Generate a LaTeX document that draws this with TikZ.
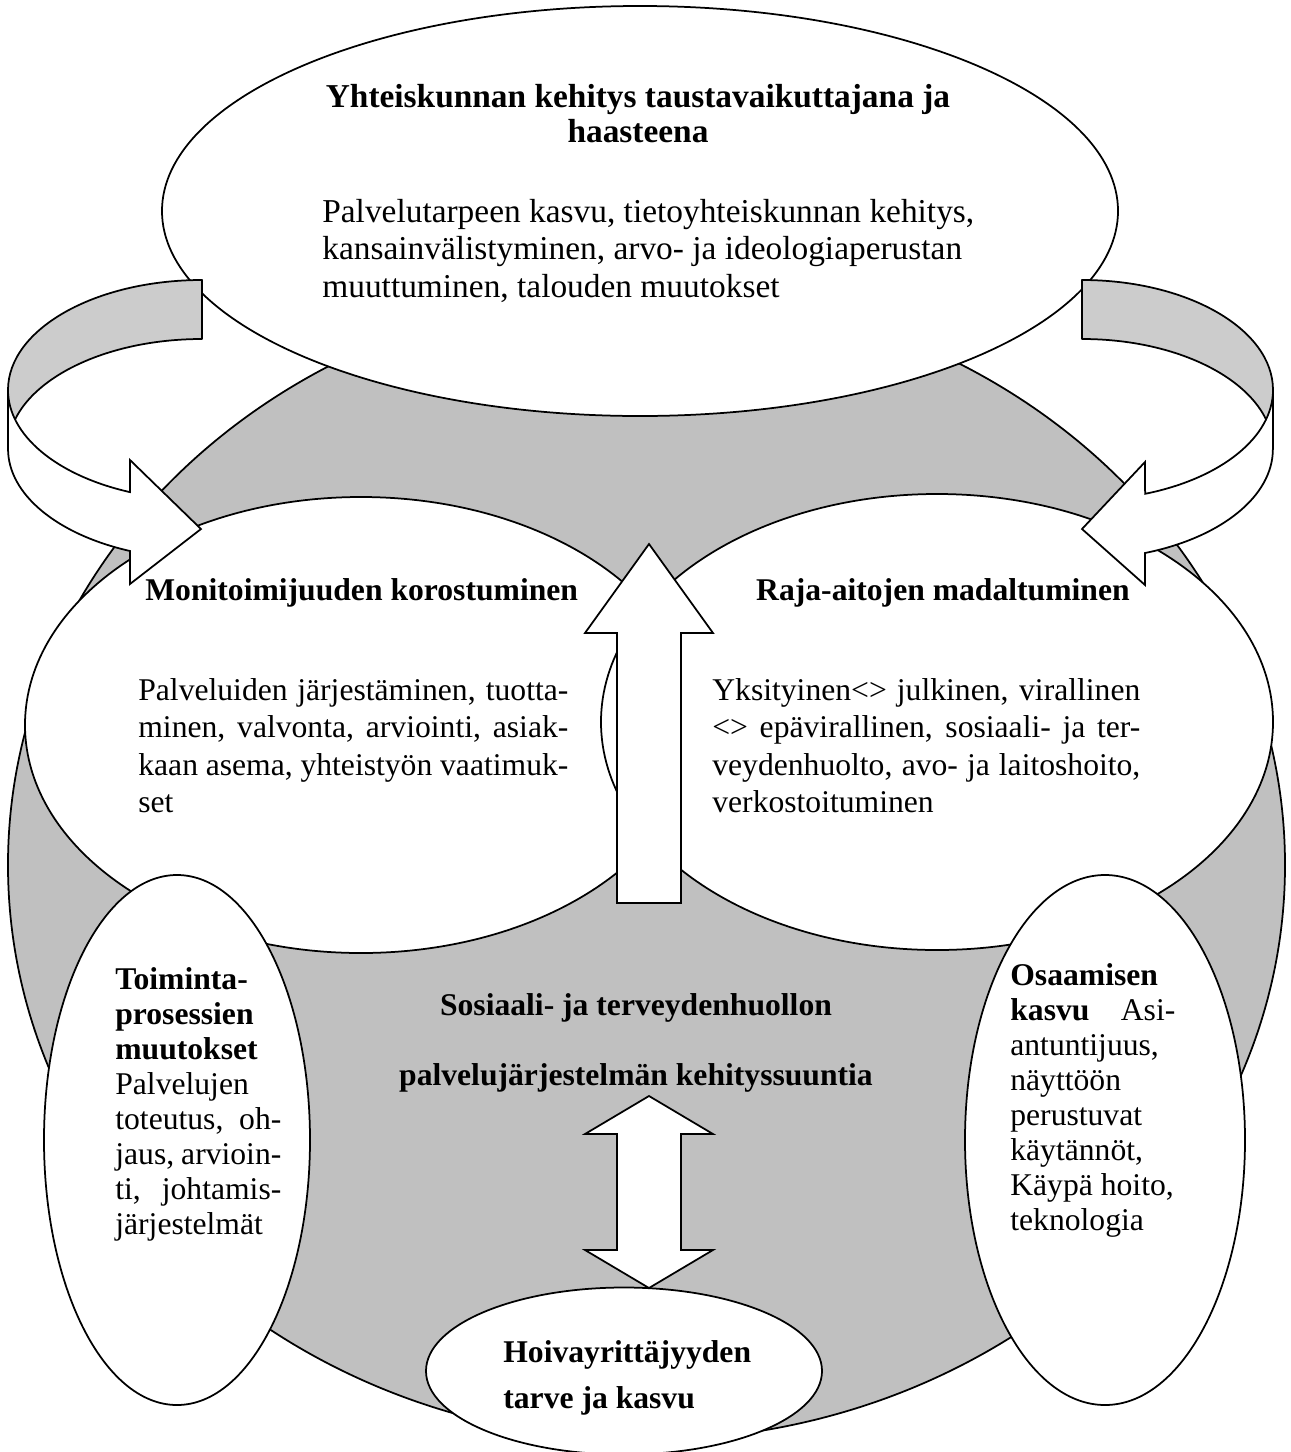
\documentclass[tikz,border=0pt]{standalone}
\usepackage{fontspec}
\setmainfont{Liberation Serif}
\usepackage{tikz}
\usetikzlibrary{shapes.geometric}
\definecolor{ringgray}{HTML}{C0C0C0}
\definecolor{bandgray}{HTML}{CCCCCC}
\tikzset{
    bubble/.style={
        ellipse,
        draw=black,
        fill=white,
        line width=0.35mm,
        inner sep=0pt
    },
    band back/.style={
        draw=black,
        fill=bandgray,
        line width=0.35mm,
        line join=round
    },
    band front/.style={
        draw=black,
        fill=white,
        line width=0.35mm,
        line join=miter
    },
    block arrow/.style={
        draw=black,
        fill=white,
        line width=0.35mm,
        line join=miter
    },
    heading/.style={
        font=\fontsize{18}{21.3}\selectfont\bfseries,
        inner sep=0pt
    },
    top heading/.style={
        font=\fontsize{19}{19.9}\selectfont\bfseries,
        inner sep=0pt
    },
    body/.style={
        font=\fontsize{18}{21.3}\selectfont,
        inner sep=0pt,
        align=justify
    },
    top body/.style={
        font=\fontsize{19}{21.3}\selectfont,
        inner sep=0pt,
        align=left
    },
    side body/.style={
        font=\fontsize{18}{19.9}\selectfont,
        inner sep=0pt,
        align=justify
    }
}
\begin{document}
\begin{tikzpicture}[x=0.2mm, y=-0.2mm]
    \useasboundingbox (0,0) rectangle (1291,1452);

    % Background ring
    \node[bubble, fill=ringgray, minimum width=255.4mm, minimum height=230mm] (ring) at (646.5,865) {};

    % Society ellipse on top
    \node[bubble, minimum width=191.2mm, minimum height=82mm] (society) at (640,211) {};

    % Middle ellipses
    \node[bubble, minimum width=134.4mm, minimum height=91.2mm] (multi) at (361,725) {};
    \node[bubble, minimum width=134.4mm, minimum height=91.2mm] (borders) at (937,722) {};

    % Curved ribbon arrows (back side grey, front side white)
    \draw[band back] (202,280) arc[start angle=270, end angle=180, x radius=194, y radius=110]
        -- (8,449) arc[start angle=180, end angle=270, x radius=194, y radius=110] -- cycle;
    \draw[band front] (8,390) arc[start angle=180, end angle=111.8, x radius=194, y radius=110]
        -- (130,460) -- (201,529) -- (130,584) -- (130,551)
        arc[start angle=111.8, end angle=180, x radius=194, y radius=110] -- cycle;
    \draw[band back] (1082,280) arc[start angle=270, end angle=360, x radius=191, y radius=110]
        -- (1273,449) arc[start angle=0, end angle=-90, x radius=191, y radius=110] -- cycle;
    \draw[band front] (1273,390) arc[start angle=0, end angle=70.7, x radius=191, y radius=110]
        -- (1145,462) -- (1082,529) -- (1145,585) -- (1145,553)
        arc[start angle=70.7, end angle=0, x radius=191, y radius=110] -- cycle;

    % Side and bottom ellipses
    \node[bubble, minimum width=53.2mm, minimum height=106mm] (process) at (177,1140) {};
    \node[bubble, minimum width=56mm, minimum height=106mm] (expertise) at (1105,1140) {};
    \node[bubble, minimum width=79.2mm, minimum height=33.4mm] (enterprise) at (624,1371) {};

    % Block arrows
    \draw[block arrow] (649,544) -- (713,633) -- (681,633) -- (681,903)
        -- (617,903) -- (617,633) -- (585,633) -- cycle;
    \draw[block arrow] (649,1096) -- (713,1134) -- (681,1134) -- (681,1250) -- (713,1250)
        -- (649,1288) -- (585,1250) -- (617,1250) -- (617,1134) -- (585,1134) -- cycle;

    % Texts
    \node[top heading, align=center, anchor=north] (society title) at (638,84)
        {Yhteiskunnan kehitys taustavaikuttajana ja\\haasteena};
    \node[top body, anchor=north west] (society text) at (322,199)
        {Palvelutarpeen kasvu, tietoyhteiskunnan kehitys,\\kansainvälistyminen, arvo- ja ideologiaperustan\\muuttuminen, talouden muutokset};

    \node[heading, anchor=base west] (multi title) at (145,600) {Monitoimijuuden korostuminen};
    \node[body, text width=86mm, anchor=north west] (multi text) at (138,678)
        {Palveluiden järjestäminen, tuotta-\linebreak minen, valvonta, arviointi, asiak-\linebreak kaan asema, yhteistyön vaatimuk-\linebreak set};

    \node[heading, anchor=base east] (borders title) at (1130,600) {Raja-aitojen madaltuminen};
    \node[body, text width=85.6mm, anchor=north west] (borders text) at (712,678)
        {Yksityinen<> julkinen, virallinen\linebreak <> epävirallinen, sosiaali- ja ter-\linebreak veydenhuolto, avo- ja laitoshoito,\linebreak verkostoituminen};

    \node[side body, text width=33.2mm, anchor=north west] (process text) at (115,967)
        {\textbf{Toiminta-}\newline\textbf{prosessien}\newline\textbf{muutokset}\newline Palvelujen\newline toteutus, oh-\linebreak jaus, arvioin-\linebreak ti, johtamis-\linebreak järjestelmät};

    \node[side body, text width=33mm, anchor=north west] (expertise text) at (1010,963)
        {\textbf{Osaamisen}\newline\textbf{kasvu} Asi-\linebreak antuntijuus,\newline näyttöön\newline perustuvat\newline käytännöt,\newline Käypä hoito,\newline teknologia};

    \node[heading, align=center, anchor=north] (core text) at (636,993)
        {Sosiaali- ja terveydenhuollon\\[6.6mm]palvelujärjestelmän kehityssuuntia};

    \node[heading, align=left, anchor=north west] (enterprise text) at (503,1340)
        {Hoivayrittäjyyden\\[1.7mm]tarve ja kasvu};
\end{tikzpicture}
\end{document}
